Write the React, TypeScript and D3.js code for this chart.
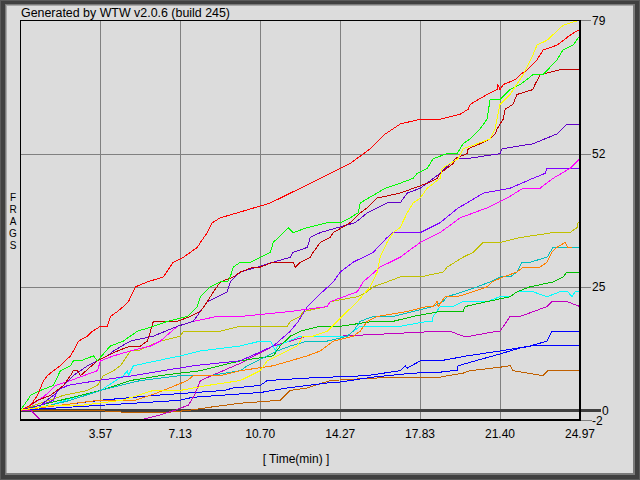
import React from 'react';
import * as d3 from 'd3';

type Pt = [number, number];

// x ticks (minutes) and y ticks (frags)
const xTicks = [3.57, 7.13, 10.7, 14.27, 17.83, 21.4, 24.97];
const xTickLabels = ['3.57', '7.13', '10.70', '14.27', '17.83', '21.40', '24.97'];
const yGridTicks = [52, 25];
const yTickLabels = ['79', '52', '25', '0', '-2'];
const yTickValues = [79, 52, 25, 0, -2];

const yellowS: Pt[] = [[0,0],[1.47,1],[2.76,1],[4.55,2],[5.93,4],[7.13,4],[8.34,5],[9.81,6],[10.7,8],[11.01,10],[11.46,11],[12.35,13],[12.62,15],[13.06,15],[13.69,16],[14.14,18],[14.58,20],[15.03,22],[15.61,25],[15.92,28],[16.05,31],[16.36,34],[16.63,36],[16.94,37],[17.26,40],[17.52,42],[17.84,43],[18.15,45],[18.73,47],[18.82,49],[19.53,51],[19.75,53],[20.38,54],[20.96,55],[21.18,57],[21.4,62],[21.85,64],[22.43,68],[22.87,72],[23.05,74],[23.5,75],[24.21,78],[24.88,79],[24.97,79]];
const redS: Pt[] = [[0,0],[0.45,1],[0.76,3],[1.03,6],[1.2,7],[1.47,8],[1.78,9],[2.23,11],[2.36,12],[2.59,14],[2.99,15],[3.21,16],[3.57,17],[3.88,17],[4.01,19],[4.33,20],[4.59,21],[4.82,22],[5.13,25],[5.66,26],[6.38,27],[6.82,30],[7.27,31],[7.89,33],[8.03,34],[8.34,36],[8.56,38],[8.92,39],[9.68,40],[11.15,42],[12.49,45],[13.82,48],[14.71,50],[15.61,53],[16.28,56],[16.94,58],[17.84,59],[18.73,59],[19.62,60],[19.98,61],[20.07,62],[20.82,64],[21.27,65],[21.31,66],[21.4,65],[21.54,66],[22.07,67],[22.3,68],[22.61,69],[23.05,71],[23.32,73],[23.94,74],[24.52,76],[24.88,77],[24.97,77]];
const limeS: Pt[] = [[0,0],[0.31,2],[0.45,3],[0.89,4],[1.47,5],[1.78,8],[2.23,9],[2.36,10],[2.68,10],[3.26,11],[3.43,10],[4.01,13],[4.59,14],[4.9,15],[5.22,16],[5.93,17],[6.55,18],[7.45,19],[7.89,21],[8.03,23],[8.47,25],[8.92,26],[9.23,26],[9.36,27],[9.5,29],[9.81,30],[10.26,30],[10.7,31],[11.15,32],[11.28,34],[11.73,36],[11.95,37],[12.17,36],[12.8,37],[13.69,38],[14.27,38],[14.71,39],[15.07,40],[15.16,42],[16.28,45],[16.94,46],[17.52,47],[17.7,48],[18.15,49],[18.42,51],[19.04,52],[19.49,52],[19.75,54],[20.07,55],[20.51,57],[20.82,59],[20.96,63],[21.4,63],[21.85,65],[22.3,66],[22.87,68],[23.32,68],[23.94,71],[24.21,73],[24.66,74],[24.97,76]];
const darkRedS: Pt[] = [[0,0],[0.45,1],[0.76,2],[1.34,3],[1.92,5],[2.23,7],[2.36,8],[2.54,8],[2.68,7],[3.43,10],[3.88,11],[4.33,12],[4.9,13],[5.35,13],[5.66,14],[5.8,16],[5.93,18],[7.0,18],[7.58,19],[8.03,20],[8.34,22],[8.61,24],[8.92,26],[9.5,27],[9.81,28],[10.39,29],[10.7,29],[11.28,30],[12.17,30],[12.26,29],[12.49,30],[12.93,31],[13.06,32],[13.38,34],[13.82,35],[13.96,36],[14.71,38],[15.16,40],[15.47,41],[15.92,43],[16.94,44],[18.15,46],[18.59,47],[18.73,48],[19.31,50],[19.4,51],[19.93,52],[19.98,53],[20.51,54],[20.96,55],[21.18,56],[21.27,57],[21.54,59],[21.63,61],[21.98,62],[22.16,64],[22.87,65],[22.96,66],[23.19,68],[24.08,69],[24.97,69]];
const indigoS: Pt[] = [[0,0],[0.89,1],[1.47,3],[1.92,5],[2.36,7],[2.99,9],[3.88,11],[4.15,12],[4.9,14],[5.93,15],[7.0,17],[7.71,18],[8.34,22],[9.23,24],[9.36,26],[9.81,28],[10.57,29],[11.28,30],[12.04,31],[12.17,32],[12.8,33],[12.93,35],[13.38,36],[14.14,37],[14.94,38],[15.47,40],[16.36,42],[16.94,42],[17.26,44],[17.84,45],[18.73,48],[19.4,51],[19.93,51],[21.4,52],[21.49,53],[22.87,54],[23.94,56],[24.39,58],[24.97,58]];
const magentaS: Pt[] = [[0,0],[0.45,1],[1.11,3],[1.56,5],[2.23,6],[3.43,8],[3.57,10],[4.15,11],[4.9,12],[5.8,13],[6.24,14],[7.0,17],[7.71,18],[8.78,19],[9.81,19],[12.04,20],[13.69,21],[13.82,22],[15.03,24],[15.29,26],[16.05,29],[16.94,31],[17.84,34],[18.73,36],[19.62,39],[20.82,41],[21.72,43],[22.43,45],[23.19,45],[23.77,47],[24.52,49],[24.97,51]];
const violetS: Pt[] = [[0,0],[0.89,1],[1.47,2],[1.65,4],[2.1,5],[3.43,6],[5.04,7],[7.71,9],[9.81,10],[11.28,13],[12.04,16],[12.4,18],[12.8,21],[13.24,23],[13.96,26],[14.27,28],[14.85,30],[15.74,32],[16.36,35],[16.63,36],[17.84,36],[18.73,38],[19.53,41],[19.93,42],[20.65,44],[21.85,45],[22.87,47],[23.41,48],[23.5,49],[24.97,49]];
const oliveS: Pt[] = [[0,0],[1.92,3],[2.99,4],[3.43,5],[3.7,7],[4.15,8],[4.46,9],[4.9,12],[5.22,12],[6.24,14],[7.13,15],[7.27,16],[8.92,16],[9.81,17],[11.91,17],[12.04,18],[12.49,19],[12.62,20],[13.69,21],[13.82,22],[15.03,23],[15.47,24],[15.74,25],[16.36,26],[16.94,27],[17.84,27],[18.86,28],[19.04,29],[19.75,31],[20.2,32],[20.65,34],[21.4,34],[22.3,35],[23.77,36],[24.52,36],[24.84,37],[24.88,38],[24.97,38]];
const orangeS: Pt[] = [[0,0],[1.78,1],[3.48,2],[5.13,2],[5.8,3],[6.38,4],[7.45,6],[7.71,7],[8.92,7],[9.81,8],[11.28,9],[12.04,10],[12.8,11],[13.38,12],[13.96,14],[14.85,15],[15.16,16],[15.47,18],[15.92,19],[17.26,20],[18.15,21],[18.42,21],[18.59,22],[18.64,21],[18.95,23],[19.49,23],[20.2,24],[20.82,25],[21.04,26],[21.54,27],[22.16,28],[22.43,29],[23.19,29],[23.5,30],[23.72,32],[23.94,33],[24.3,34],[24.43,33],[24.61,33]];
const tealS: Pt[] = [[0,0],[1.34,1],[2.23,2],[3.57,4],[5.35,6],[7.13,7],[8.47,7],[9.81,8],[10.12,9],[11.01,11],[11.46,12],[12.04,13],[12.8,14],[13.69,14],[14.58,15],[14.85,16],[15.16,18],[15.74,19],[16.63,19],[17.52,20],[18.42,21],[18.86,22],[19.04,23],[19.75,24],[20.38,25],[20.96,26],[21.4,27],[21.85,27],[22.16,28],[22.38,30],[22.74,30],[23.5,31],[23.63,32],[23.77,33],[24.97,33]];
const greenS: Pt[] = [[0,0],[0.89,1],[1.78,2],[2.68,3],[3.57,4],[4.9,6],[6.24,7],[8.03,8],[9.81,10],[11.28,11],[11.59,13],[12.04,15],[12.49,16],[13.38,17],[14.27,17],[15.74,18],[16.63,18],[17.52,19],[18.73,20],[19.75,20],[19.84,21],[20.82,22],[21.85,23],[22.16,24],[22.74,25],[23.77,26],[24.21,27],[24.39,28],[24.97,28]];
const cyanS: Pt[] = [[0,0],[1.34,1],[2.68,3],[3.57,4],[4.59,7],[4.77,8],[4.82,7],[5.04,9],[7.13,11],[8.03,12],[9.81,13],[10.7,14],[11.15,14],[11.28,13],[11.37,12],[11.46,13],[12.49,15],[13.51,15],[14.58,15],[14.85,16],[15.16,17],[16.94,17],[18.15,18],[18.37,18],[18.42,19],[18.73,21],[19.31,21],[19.75,22],[20.82,22],[21.4,23],[21.85,23],[22.16,24],[22.87,24],[23.5,23],[24.08,24],[24.43,24],[24.61,23],[24.75,24],[24.97,24]];
const purpleS: Pt[] = [[0,0],[0.45,0],[0.89,-2],[5.35,-2],[6.2,-1],[6.91,0],[7.49,1],[7.76,3],[8.03,6],[9.81,9.5],[11.28,13],[12.8,15],[14.27,15],[18.73,16],[19.17,16],[19.75,15],[20.07,15],[21.27,16],[21.4,16],[21.85,19],[22.3,19],[23.5,21],[23.72,22],[24.39,22],[24.97,21]];
const blueS: Pt[] = [[0,0],[1.78,1],[3.57,2],[6.02,3],[9.1,4],[9.5,4.5],[10.7,5],[11.01,6],[12.8,6.5],[15.47,7],[16.94,8],[17.17,9],[17.26,8.5],[17.84,10],[18.73,10],[19.93,11],[21.4,12],[22.74,13],[23.5,14],[23.72,16],[23.99,16],[24.97,16]];
const blue2S: Pt[] = [[0,0],[3.66,1],[7.13,2],[7.67,2.6],[10.75,3.6],[11.91,4.5],[13.69,5.5],[14.27,5.7],[15.74,6.7],[17.52,7.5],[18.73,7.7],[19.49,8.1],[19.53,9],[21.4,11.4],[22.3,12.6],[23.05,13.2],[24.97,13.2]];
const brownS: Pt[] = [[0,0],[3.12,0],[4.9,-0.5],[6.47,-0.5],[7.58,0],[8.47,0.6],[9.81,1.4],[11.59,2],[12.04,4],[12.8,4.5],[13.82,6],[15.74,6.5],[18.73,6.7],[19.75,7.5],[20.07,8],[21.4,8.7],[21.85,9],[21.98,8],[23.32,7],[23.54,8],[24.97,8]];

const seriesList: { data: Pt[]; color: string }[] = [
  { data: brownS, color: '#c06000' },
  { data: blue2S, color: '#0000ff' },
  { data: blueS, color: '#0000ff' },
  { data: purpleS, color: '#c000c0' },
  { data: cyanS, color: '#00ffff' },
  { data: greenS, color: '#00c000' },
  { data: tealS, color: '#00c0c0' },
  { data: orangeS, color: '#ff8000' },
  { data: oliveS, color: '#c0c000' },
  { data: violetS, color: '#8000ff' },
  { data: magentaS, color: '#ff00ff' },
  { data: indigoS, color: '#6000c8' },
  { data: darkRedS, color: '#c00000' },
  { data: limeS, color: '#00ff00' },
  { data: redS, color: '#ff0000' },
  { data: yellowS, color: '#ffff00' },
];

const FONT = '"Liberation Sans", Arial, Helvetica, sans-serif';

export default function App() {
  const W = 640, H = 480;
  const x = d3.scaleLinear().domain([0, 24.97]).range([20.5, 580]);
  const y = d3.scaleLinear().domain([-2, 79]).range([420, 20.5]);
  const line = d3.line<Pt>().x(d => x(d[0])).y(d => y(d[1]));

  return (
    <div style={{ position: 'absolute', left: 0, top: 0 }}>
      <svg width={W} height={H} style={{ display: 'block' }}>
        {/* frame */}
        <rect x={0} y={0} width={W} height={H} fill="#5a5a5a" />
        <rect x={1} y={1} width={638} height={478} fill="#404040" />
        <rect x={5} y={4} width={630} height={471} fill="#7a7a7a" />
        <rect x={6} y={5} width={627} height={468} fill="#a8a8a8" />
        <rect x={7} y={6} width={626} height={467} fill="#dcdcdc" />

        {/* title */}
        <text x={21} y={17} fontFamily={FONT} fontSize={12.5} textLength={209} lengthAdjust="spacingAndGlyphs" fill="#000">Generated by WTW v2.0.6 (build 245)</text>

        {/* vertical grid */}
        {xTicks.map((t, i) => (
          <line key={'vg' + i} x1={Math.round(x(t)) + 0.5} x2={Math.round(x(t)) + 0.5} y1={20} y2={420} stroke="#808080" strokeWidth={1} />
        ))}
        {/* horizontal grid */}
        {yGridTicks.map((v, i) => (
          <line key={'hg' + i} x1={20} x2={591} y1={Math.round(y(v)) + 0.5} y2={Math.round(y(v)) + 0.5} stroke="#808080" strokeWidth={1} />
        ))}
        <line x1={580} x2={591} y1={20.5} y2={20.5} stroke="#808080" />
        <line x1={580} x2={592} y1={420.5} y2={420.5} stroke="#808080" />
        {/* zero line */}
        <line x1={20} x2={601} y1={Math.round(y(0)) + 0.5} y2={Math.round(y(0)) + 0.5} stroke="#404040" strokeWidth={3} />

        {/* data */}
        <g fill="none" strokeWidth={1} shapeRendering="crispEdges">
          {seriesList.map((s, i) => (
            <path key={'s' + i} d={line(s.data) || ''} stroke={s.color} />
          ))}
        </g>

        {/* borders */}
        <line x1={20.5} x2={20.5} y1={20} y2={421} stroke="#000" strokeWidth={1} />
        <line x1={20} x2={581} y1={20.5} y2={20.5} stroke="#000" strokeWidth={1} />
        <line x1={580} x2={580} y1={20} y2={421} stroke="#000" strokeWidth={2} />
        <line x1={20} x2={581} y1={420} y2={420} stroke="#000" strokeWidth={2} />

        {/* y tick labels (right) */}
        {yTickValues.map((v, i) => (
          <text key={'yl' + i} x={v === 0 ? 602 : 592} y={y(v) + 4.5} fontFamily={FONT} fontSize={12} fill="#000">{yTickLabels[i]}</text>
        ))}
        {/* x tick labels */}
        {xTicks.map((t, i) => (
          <text key={'xl' + i} x={x(t)} y={438} textAnchor="middle" fontFamily={FONT} fontSize={12} fill="#000">{xTickLabels[i]}</text>
        ))}
        {/* axis titles */}
        <text x={296} y={463} textAnchor="middle" fontFamily={FONT} fontSize={12} fill="#000">[ Time(min) ]</text>
        {'FRAGS'.split('').map((c, i) => (
          <text key={'f' + i} x={13} y={201 + i * 12} textAnchor="middle" fontFamily={FONT} fontSize={10} fill="#000">{c}</text>
        ))}
      </svg>
    </div>
  );
}
